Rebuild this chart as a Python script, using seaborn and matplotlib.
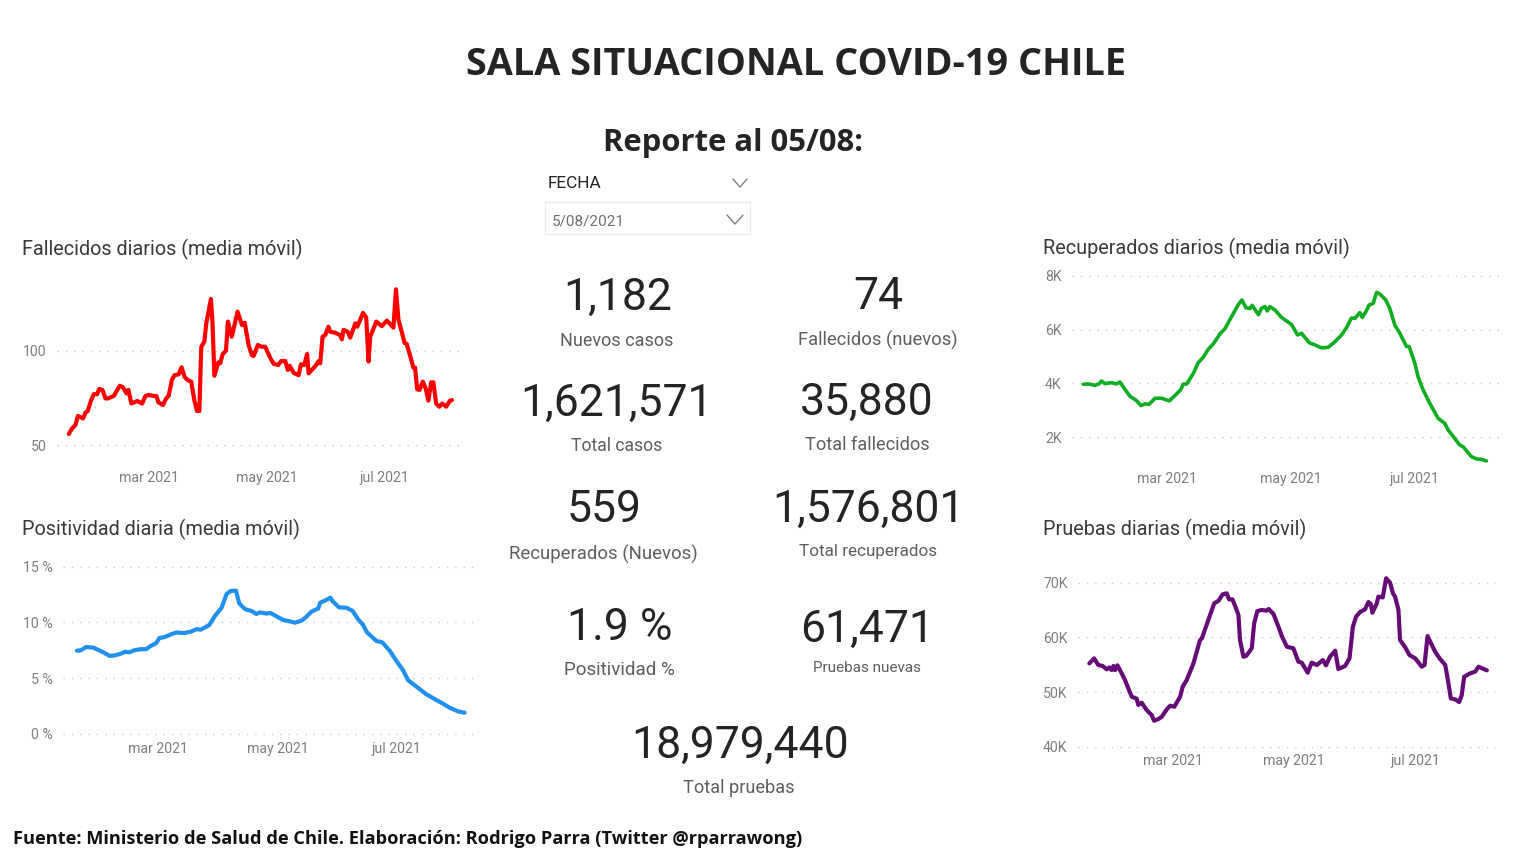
import matplotlib
matplotlib.use('Agg')
import matplotlib.pyplot as plt
import seaborn as sns
import pandas as pd

# days counted from 2021-03-01
fall_days = [-41.4, -39.7, -37.9, -36.7, -34, -32.8, -31.6, -29.8, -28.4, -26.7, -25.7, -24, -22.4, -21, -18, -16.4, -15, -13.4, -11.5, -10.5, -9, -6, -3.4, -1.7, 0, 2.6, 4, 5, 7.4, 9, 10.3, 12, 13.3, 15.5, 17, 18.5, 20, 22, 23.6, 25, 26.2, 27.2, 28.8, 29.8, 32.2, 33, 34, 36, 37, 38.3, 40, 41, 43, 46, 48.3, 49.7, 51.7, 53.4, 54.3, 56.5, 58.3, 60.3, 63, 64.7, 67, 68.6, 70.7, 72, 73, 75, 77.6, 78.8, 80.5, 82, 82.8, 86, 88, 88.8, 90, 91.4, 93, 94, 96.6, 99, 100, 100.9, 103, 104.3, 107, 108, 109.5, 110.9, 112.6, 113.8, 114.7, 117.8, 120.7, 123.3, 126.7, 128, 129.3, 131, 132.4, 133.6, 135.7, 137, 137.9, 139, 140.2, 141.9, 143.4, 144.8, 146.2, 147.4, 148.8, 150.5, 152, 154, 156, 157]
fall_vals = [55.8, 58.8, 60.6, 65.4, 64.1, 67.1, 68, 73.8, 77, 76.9, 79.7, 79.2, 74.7, 74.7, 76.1, 79, 81.4, 80.6, 77.4, 79.2, 72, 73.3, 72, 76, 76.5, 76, 76, 72.6, 71.2, 74.7, 76, 84.5, 87, 87.5, 91.2, 86.2, 84.5, 83.6, 73.8, 68, 68, 102, 104.8, 114.5, 127.4, 115, 86.7, 93.8, 93.3, 98.2, 100, 115.4, 107.4, 120.7, 113.6, 114.8, 103, 97.7, 97.2, 103, 102.1, 102.1, 96, 93, 92.4, 94.5, 94.5, 89.8, 92, 88.3, 87, 92.8, 92.4, 98.2, 88, 91.5, 94.5, 93.3, 107.4, 108.3, 112.7, 110, 109.5, 108.3, 106, 111, 110, 106.9, 114.5, 112.7, 116.3, 120, 117.7, 94.2, 107.4, 115.4, 113, 115.9, 112.2, 132.5, 116.3, 110, 104.2, 103.5, 96, 91, 91, 79.5, 79.2, 83.6, 80, 73.5, 83.2, 83.2, 72, 70.3, 72, 70.3, 73.5, 73.8]

pos_days = [-41.8, -39.8, -37, -33.3, -30.7, -28.2, -25, -22.2, -19.3, -17, -14.8, -12.5, -9.4, -6.3, -3.9, -1.2, 0.5, 3.4, 6.8, 9.4, 13.1, 16.6, 19.6, 21.7, 26.1, 29, 32.4, 35, 37, 39.8, 41.5, 44.4, 47.8, 50.3, 52, 55.5, 57.5, 60.9, 64, 67.4, 70, 73.4, 75.6, 78.5, 82, 83, 85.3, 88.2, 89.6, 92.7, 96.4, 99.5, 102.4, 105, 107, 111.8, 114.8, 118.6, 122, 125.4, 128, 129.7, 133.1, 137.4, 142.5, 146, 149.3, 153.6, 157]
pos_vals = [7.47, 7.5, 7.8, 7.74, 7.53, 7.32, 7.0, 7.05, 7.2, 7.38, 7.32, 7.5, 7.6, 7.6, 7.9, 8.13, 8.6, 8.7, 8.96, 9.1, 9.05, 9.17, 9.4, 9.35, 9.77, 10.58, 11.32, 12.55, 12.82, 12.85, 11.7, 11.2, 11.02, 10.76, 10.9, 10.8, 10.85, 10.52, 10.22, 10.1, 9.98, 10.16, 10.46, 10.97, 11.26, 11.77, 11.95, 12.22, 11.86, 11.35, 11.32, 11.05, 10.3, 9.77, 9.11, 8.34, 8.22, 7.47, 6.57, 5.74, 4.84, 4.6, 4.15, 3.56, 3.05, 2.72, 2.36, 2.03, 1.91]

rec_days = [-41.5, -39, -35.7, -33.8, -32.5, -30.8, -27.5, -25.4, -23.4, -20.9, -18.5, -15.2, -13, -11, -9, -6, -2.8, 1, 3.8, 6.6, 7.9, 9.6, 12.9, 15.3, 17.8, 20.3, 23, 26, 28.5, 31.8, 35, 36.9, 38.9, 40.9, 42, 43.3, 45.1, 46.6, 48.3, 49.4, 50.7, 53.2, 56.5, 61.4, 64.4, 66.4, 70.2, 73, 76.3, 79.6, 82.9, 86.2, 88.6, 91.1, 92.8, 95.2, 96.4, 98.2, 99.8, 101.8, 103.5, 105.1, 108, 110, 112.5, 115, 118.3, 119.6, 122.4, 124, 126.5, 129.8, 133.9, 137.2, 138.9, 144.6, 146.3, 150.4, 152.9, 155.3, 157.8]
rec_vals = [3967, 3980, 3930, 3980, 4090, 3990, 4030, 3980, 4050, 3780, 3530, 3360, 3175, 3240, 3225, 3450, 3450, 3350, 3550, 3760, 3970, 3980, 4375, 4770, 4970, 5270, 5490, 5835, 6030, 6480, 6910, 7100, 6810, 6780, 6900, 6750, 6550, 6790, 6850, 6690, 6850, 6730, 6450, 6190, 5800, 5860, 5510, 5430, 5320, 5340, 5550, 5800, 6070, 6430, 6415, 6630, 6450, 6660, 6910, 6970, 7380, 7320, 7100, 6790, 6170, 5860, 5370, 5370, 4750, 4250, 3760, 3260, 2705, 2520, 2270, 1715, 1650, 1280, 1195, 1180, 1120]

pru_days = [-41.9, -39.5, -37.4, -35.2, -33.2, -31.8, -30.7, -29.8, -29, -27.8, -25.6, -24, -22, -20.6, -18.1, -17.3, -15.6, -13.1, -10.6, -9.4, -7.2, -5.5, -3, -1.3, 0.8, 3.7, 5, 7, 10.4, 13.7, 14.6, 17, 20.8, 23, 25.1, 27.1, 28.3, 30, 31.8, 33, 33.8, 35.5, 36.9, 39.7, 40.9, 42.5, 44.7, 47.2, 48.2, 50.6, 53.1, 54.8, 57.3, 58.6, 60.6, 63.1, 64.8, 67.8, 69.8, 72.4, 75.4, 77, 79, 81.6, 83.2, 86.6, 88.8, 90.5, 92.1, 94.1, 96.6, 98.3, 99.5, 100.3, 102.5, 103.3, 105.5, 107.2, 109.2, 110.6, 111.7, 113.4, 114.2, 116.8, 118.9, 121.8, 125.1, 126.5, 128, 131.8, 134.3, 136.9, 138.5, 139.7, 141.9, 143.9, 145.2, 146.4, 149.4, 151.9, 153.6, 157.8]
pru_vals = [55240, 56160, 54940, 54760, 54150, 54500, 54020, 54760, 54020, 54880, 53400, 52200, 50370, 49150, 48780, 47620, 48050, 46700, 45800, 44760, 45060, 45490, 46830, 47500, 47300, 49150, 50980, 52200, 55240, 59500, 59800, 62260, 66200, 66700, 67870, 68050, 66950, 66950, 65300, 64100, 59500, 56460, 56600, 58000, 62560, 64800, 65000, 64880, 65180, 64270, 61950, 60240, 58300, 58170, 58000, 55550, 55370, 53540, 55370, 54940, 55850, 54880, 56460, 57560, 54200, 54760, 56160, 61950, 63780, 64630, 65120, 66460, 66100, 64500, 66200, 67440, 67300, 70800, 70000, 68050, 67440, 65000, 59500, 58170, 56770, 56160, 54630, 54940, 60240, 57380, 56040, 54940, 51600, 48840, 48660, 48170, 49450, 52800, 53410, 53720, 54630, 53960]

month_ticks = ['2021-03-01', '2021-05-01', '2021-07-01']
month_labels = ['mar 2021', 'may 2021', 'jul 2021']

fall_ticks = [50, 100]
fall_labels = ['50', '100']
pos_ticks = [0, 5, 10, 15]
pos_labels = ['0 %', '5 %', '10 %', '15 %']
rec_ticks = [2000, 4000, 6000, 8000]
rec_labels = ['2K', '4K', '6K', '8K']
pru_ticks = [40000, 50000, 60000, 70000]
pru_labels = ['40K', '50K', '60K', '70K']

kpi_values = ['1,182', '74', '1,621,571', '35,880', '559', '1,576,801', '1.9 %', '61,471', '18,979,440']
kpi_labels = ['Nuevos casos', 'Fallecidos (nuevos)', 'Total casos', 'Total fallecidos', 'Recuperados (Nuevos)',
              'Total recuperados', 'Positividad %', 'Pruebas nuevas', 'Total pruebas']

W, H = 1521, 855
DARK = '#252423'
GREY = '#7f7f7f'
LABEL = '#605e5c'
FONT = 'Roboto'

sns.set_theme(style='white')
plt.rcParams['font.family'] = [FONT, 'DejaVu Sans']
fig = plt.figure(figsize=(W / 100, H / 100), dpi=100, facecolor='white')

# overlay in pixel coordinates for the text and the slicer
bg = fig.add_axes([0, 0, 1, 1])
bg.set_xlim(0, W)
bg.set_ylim(H, 0)
bg.axis('off')


def panel(box, title, title_x, title_y, days, vals, color, lw, xlim, ylim, yticks, ylabels, pad):
    left, top, right, bottom = box
    ax = fig.add_axes([left / W, 1 - bottom / H, (right - left) / W, (bottom - top) / H])
    ax.patch.set_alpha(0)
    dates = pd.Timestamp('2021-03-01') + pd.to_timedelta(days, unit='D')
    sns.lineplot(x=dates, y=vals, ax=ax, color=color, linewidth=lw, estimator=None, sort=False,
                 solid_joinstyle='round')
    ax.set_xlim(pd.Timestamp('2021-03-01') + pd.to_timedelta(xlim[0], unit='D'),
                pd.Timestamp('2021-03-01') + pd.to_timedelta(xlim[1], unit='D'))
    ax.set_ylim(*ylim)
    ax.set_xticks(pd.to_datetime(month_ticks))
    ax.set_xticklabels(month_labels)
    ax.set_yticks(yticks)
    ax.set_yticklabels(ylabels)
    ax.set_xlabel('')
    ax.set_ylabel('')
    ax.yaxis.grid(True, linestyle=(0, (1, 5)), color='#c8c8c8', linewidth=1)
    ax.xaxis.grid(False)
    ax.tick_params(axis='x', length=0, labelsize=10.2, labelcolor=GREY, pad=pad)
    ax.tick_params(axis='y', length=0, labelsize=10.2, labelcolor=GREY, pad=7.5)
    sns.despine(ax=ax, left=True, bottom=True)
    bg.text(title_x, title_y, title, fontsize=14.3, color='#3a3a3a', ha='left', va='center')


panel((57, 285, 462, 462), 'Fallecidos diarios (media móvil)', 22, 249, fall_days, fall_vals, '#ff0000', 3,
      (-47.5, 162.2), (41, 134.8), fall_ticks, fall_labels, 6.5)
panel((63, 560, 477, 737), 'Positividad diaria (media móvil)', 22, 529, pos_days, pos_vals, '#2090ee', 3,
      (-48.9, 163.4), (-0.27, 15.6), pos_ticks, pos_labels, 3.5)
panel((1072, 270, 1503, 465), 'Recuperados diarios (media móvil)', 1043, 248, rec_days, rec_vals, '#0fae22', 2.6,
      (-47.1, 166), (971, 8211), rec_ticks, rec_labels, 5)
panel((1078, 575, 1496, 750), 'Pruebas diarias (media móvil)', 1043, 529, pru_days, pru_vals, '#660a78', 3,
      (-47.6, 162.4), (39400, 71400), pru_ticks, pru_labels, 3)

# headers
bg.text(796, 65, 'SALA SITUACIONAL COVID-19 CHILE', fontsize=27.3, fontweight='bold', family='Open Sans',
        color=DARK, ha='center', va='center')
bg.text(733, 143, 'Reporte al 05/08:', fontsize=22.3, fontweight='bold', family='Open Sans',
        color=DARK, ha='center', va='center')
bg.text(13, 839, 'Fuente: Ministerio de Salud de Chile. Elaboración: Rodrigo Parra (Twitter @rparrawong)',
        fontsize=13.17, fontweight='bold', family='Open Sans', color='#111111', ha='left', va='center')

# date slicer
bg.text(548, 184, 'FECHA', fontsize=12.4, color=DARK, ha='left', va='center')
bg.plot([733, 740, 747], [179, 187, 179], color='#808080', lw=1)
bg.add_patch(plt.Rectangle((545, 202), 205, 32, fill=False, edgecolor='#ececec', lw=1))
bg.text(552, 221, '5/08/2021', fontsize=11, color='#707070', ha='left', va='center')
bg.plot([727, 735, 743], [215, 224, 215], color='#808080', lw=1)

# cards
value_xy = [(618, 298), (878, 297), (617, 404), (867, 403), (604, 510), (868, 510), (620, 628), (867, 630), (740, 746)]
label_xy = [(617, 341), (878, 340), (617, 446), (867, 445), (603, 554), (868, 551), (619, 670), (867, 668), (739, 788)]
label_size = [13, 13.2, 12.7, 13.1, 13.4, 12.3, 13.5, 11, 13.1]
for val, lab, vxy, lxy, size in zip(kpi_values, kpi_labels, value_xy, label_xy, label_size):
    bg.text(vxy[0], vxy[1], val, fontsize=32, color=DARK, ha='center', va='center')
    bg.text(lxy[0], lxy[1], lab, fontsize=size, color=LABEL, ha='center', va='center')

fig.savefig('out.png', dpi=100, facecolor='white')
